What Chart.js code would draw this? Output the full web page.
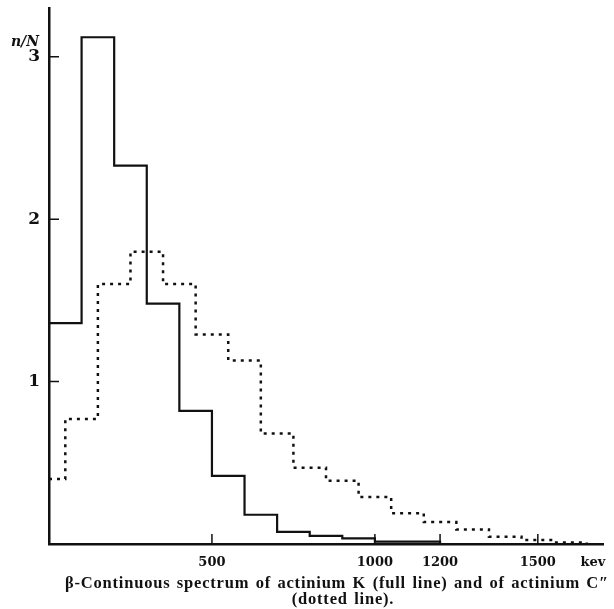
<!DOCTYPE html>
<html>
<head>
<meta charset="utf-8">
<script src="https://cdn.jsdelivr.net/npm/chart.js@4.4.0/dist/chart.umd.min.js"></script>
<style>
  html, body { margin: 0; padding: 0; background: #fff; }
  #wrap { width: 614px; height: 609px; position: relative; }
</style>
</head>
<body>
<div id="wrap"><canvas id="spectrumChart"></canvas></div>
<script>
'use strict';

// actinium K (full line): bin edges in keV and n/N of each bin
const fullEdges = [0, 100, 200, 300, 400, 500, 600, 700, 800, 900, 1000, 1200];
const fullValues = [1.36, 3.12, 2.33, 1.48, 0.82, 0.42, 0.18, 0.075, 0.05, 0.035, 0.015];

// actinium C" (dotted line)
const dottedEdges = [0, 50, 150, 250, 350, 450, 550, 650, 750, 850, 950, 1050, 1150, 1250, 1350, 1450, 1550, 1650];
const dottedValues = [0.40, 0.77, 1.60, 1.80, 1.60, 1.29, 1.13, 0.68, 0.47, 0.39, 0.29, 0.19, 0.135, 0.09, 0.045, 0.025, 0.01];

const xTicks = [500, 1000, 1200, 1500];
const yTicks = [1, 2, 3];

const ink = '#111';
const serif = "'DejaVu Serif', 'Liberation Serif', serif";
const captionFont = "'Liberation Serif', 'DejaVu Serif', serif";

// histogram -> points for a stepped line, closed down to zero at the end
function toSteps(edges, values) {
  const pts = values.map((v, i) => ({ x: edges[i], y: v }));
  pts.push({ x: edges[edges.length - 1], y: 0 });
  return pts;
}

// inward tick marks, axis titles and the caption
const decorPlugin = {
  id: 'decor',
  afterDraw(chart) {
    const { ctx, chartArea } = chart;
    const xs = chart.scales.x;
    const ys = chart.scales.y;
    ctx.save();
    ctx.strokeStyle = ink;
    ctx.lineWidth = 1.5;
    ctx.beginPath();
    yTicks.forEach(v => {
      const py = ys.getPixelForValue(v);
      ctx.moveTo(chartArea.left, py);
      ctx.lineTo(chartArea.left + 10, py);
    });
    xTicks.forEach(v => {
      const px = xs.getPixelForValue(v);
      ctx.moveTo(px, chartArea.bottom);
      ctx.lineTo(px, chartArea.bottom - 10);
    });
    ctx.stroke();

    ctx.fillStyle = ink;
    ctx.textBaseline = 'alphabetic';
    ctx.font = "italic bold 14px " + serif;
    ctx.textAlign = 'right';
    ctx.fillText('n/N', 39, 46);

    ctx.font = "bold 13px " + serif;
    ctx.textAlign = 'center';
    ctx.textBaseline = 'middle';
    ctx.fillText('kev', chartArea.right - 10, 563);

    ctx.font = "bold 16.5px " + captionFont;
    ctx.letterSpacing = '0.8px';
    ctx.wordSpacing = '1.5px';
    ctx.fillText('\u03b2-Continuous spectrum of actinium K (full line) and of actinium C\u2033', 337, 584);
    ctx.fillText('(dotted line).', 343, 600);
    ctx.restore();
  }
};

document.addEventListener('DOMContentLoaded', function () {
  const ctx = document.getElementById('spectrumChart').getContext('2d');

  new Chart(ctx, {
    type: 'line',
    data: {
      datasets: [
        {
          label: 'actinium K',
          data: toSteps(fullEdges, fullValues),
          stepped: 'before',
          borderColor: ink,
          borderWidth: 2.2,
          pointRadius: 0,
          fill: false
        },
        {
          label: 'actinium C"',
          data: toSteps(dottedEdges, dottedValues),
          stepped: 'before',
          borderColor: ink,
          borderWidth: 2.5,
          borderDash: [3, 5],
          pointRadius: 0,
          fill: false
        }
      ]
    },
    options: {
      responsive: true,
      maintainAspectRatio: false,
      animation: false,
      layout: {
        padding: { top: 8, right: 11, left: 0, bottom: 0 }
      },
      plugins: {
        legend: { display: false },
        tooltip: { enabled: false }
      },
      scales: {
        x: {
          type: 'linear',
          min: 0,
          max: 1700,
          afterBuildTicks: scale => { scale.ticks = xTicks.map(v => ({ value: v })); },
          afterFit: scale => {
            scale.height = 65;
            scale.paddingLeft = 0;
            scale.paddingRight = 0;
          },
          ticks: {
            autoSkip: false,
            maxRotation: 0,
            padding: 11,
            color: ink,
            font: { family: serif, size: 13, weight: 'bold' },
            callback: v => String(v)
          },
          grid: { display: false, drawTicks: false },
          border: { display: true, color: ink, width: 2.5 }
        },
        y: {
          type: 'linear',
          min: 0,
          max: 3.3,
          afterBuildTicks: scale => { scale.ticks = yTicks.map(v => ({ value: v })); },
          afterFit: scale => {
            scale.width = 49;
            scale.paddingTop = 0;
            scale.paddingBottom = 0;
          },
          ticks: {
            padding: 9,
            color: ink,
            font: { family: serif, size: 17, weight: 'bold' },
            callback: v => String(v)
          },
          grid: { display: false, drawTicks: false },
          border: { display: true, color: ink, width: 2.5 }
        }
      }
    },
    plugins: [decorPlugin]
  });
});
</script>
</body>
</html>
